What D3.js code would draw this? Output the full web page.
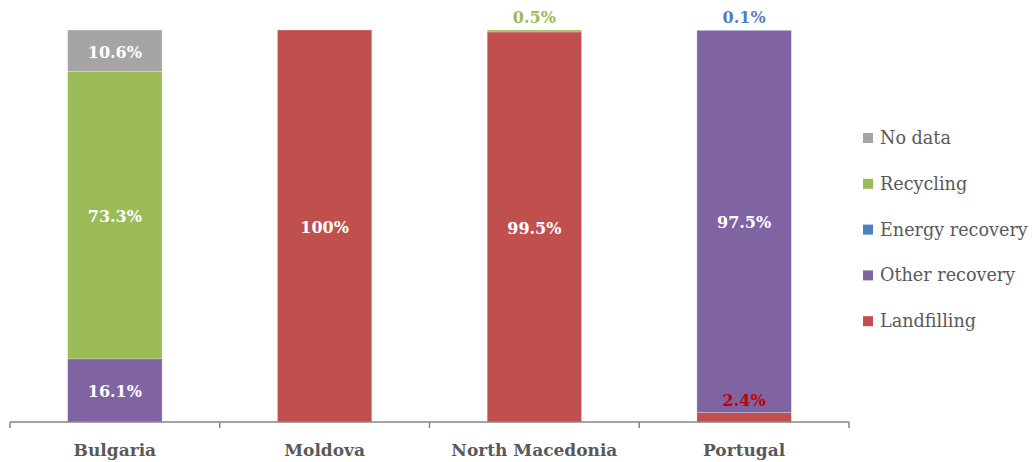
<!DOCTYPE html>
<html>
<head>
<meta charset="utf-8">
<script src="https://cdn.jsdelivr.net/npm/d3@7"></script>
<style>
  body { margin: 0; background: #fff; }
  text { font-family: "DejaVu Serif", "Liberation Serif", serif; }
</style>
</head>
<body>
<div id="chart"></div>
<script>
// chart data
const countries = ["Bulgaria", "Moldova", "North Macedonia", "Portugal"];
const seriesNames = ["Landfilling", "Other recovery", "Energy recovery", "Recycling", "No data"];
const landfilling = [0, 100, 99.5, 2.4];
const otherRecovery = [16.1, 0, 0, 97.5];
const energyRecovery = [0, 0, 0, 0.1];
const recycling = [73.3, 0, 0.5, 0];
const noData = [10.6, 0, 0, 0];
const colors = ["#c0504d", "#8064a2", "#4f81bd", "#9bbb59", "#a5a5a5"];

const width = 1032;
const height = 462;
const plotLeft = 10, plotRight = 849, plotTop = 30, plotBottom = 422;

const svg = d3.select("#chart")
              .append("svg")
              .attr("width", width)
              .attr("height", height);

// build rows for stack
const rows = countries.map((c, i) => ({
  country: c,
  "Landfilling": landfilling[i],
  "Other recovery": otherRecovery[i],
  "Energy recovery": energyRecovery[i],
  "Recycling": recycling[i],
  "No data": noData[i]
}));
const stacked = d3.stack().keys(seriesNames)(rows);

const xScale = d3.scaleBand()
                 .domain(countries)
                 .range([plotLeft, plotRight])
                 .paddingInner(0.55)
                 .paddingOuter(0.275);

const yScale = d3.scaleLinear()
                 .domain([0, 100])
                 .range([plotBottom, plotTop]);

// bars
stacked.forEach((layer, k) => {
  svg.append("g")
     .selectAll("rect")
     .data(layer)
     .join("rect")
     .attr("x", d => xScale(d.data.country))
     .attr("width", xScale.bandwidth())
     .attr("y", d => yScale(d[1]))
     .attr("height", d => yScale(d[0]) - yScale(d[1]))
     .attr("fill", colors[k])
     .attr("stroke", "#fff")
     .attr("stroke-width", 0.4)
     .attr("stroke-opacity", d => (d[1] - d[0]) > 0 ? 0.6 : 0);
});

// value labels
const fmt = v => (v === 100 ? "100" : v.toFixed(1)) + "%";
stacked.forEach((layer, k) => {
  layer.forEach(d => {
    const v = d[1] - d[0];
    if (v <= 0) return;
    const cx = xScale(d.data.country) + xScale.bandwidth() / 2;
    let y, fill;
    if (v >= 5) {
      y = (yScale(d[0]) + yScale(d[1])) / 2 + 7;
      fill = "#fff";
    } else if (k === 0) {
      // small landfilling share, label above segment
      y = yScale(d[1]) - 7;
      fill = "#c00000";
    } else {
      y = 23;
      fill = colors[k];
    }
    svg.append("text")
       .attr("x", cx)
       .attr("y", y)
       .attr("text-anchor", "middle")
       .attr("font-size", 16)
       .attr("font-weight", "bold")
       .attr("fill", fill)
       .text(fmt(v));
  });
});

// x axis
const axis = svg.append("g").attr("stroke", "#868686").attr("stroke-width", 1.5);
axis.append("line")
    .attr("x1", plotLeft).attr("x2", plotRight)
    .attr("y1", plotBottom).attr("y2", plotBottom);
const step = xScale.step();
d3.range(countries.length + 1).forEach(i => {
  const x = plotLeft + i * step;
  axis.append("line")
      .attr("x1", x).attr("x2", x)
      .attr("y1", plotBottom).attr("y2", plotBottom + 6);
});

svg.append("g")
   .selectAll("text")
   .data(countries)
   .join("text")
   .attr("x", d => xScale(d) + xScale.bandwidth() / 2)
   .attr("y", 456)
   .attr("text-anchor", "middle")
   .attr("font-size", 17)
   .attr("font-weight", "bold")
   .attr("fill", "#595959")
   .text(d => d);

// legend
const legendNames = seriesNames.slice().reverse();
const legendColors = colors.slice().reverse();
const legend = svg.append("g");
legendNames.forEach((name, i) => {
  const y = 138 + i * 45.8;
  legend.append("rect")
        .attr("x", 863)
        .attr("y", y - 5)
        .attr("width", 10)
        .attr("height", 10)
        .attr("fill", legendColors[i]);
  legend.append("text")
        .attr("x", 880)
        .attr("y", y + 6)
        .attr("font-size", 17.6)
        .attr("fill", "#595959")
        .text(name);
});
</script>
</body>
</html>
